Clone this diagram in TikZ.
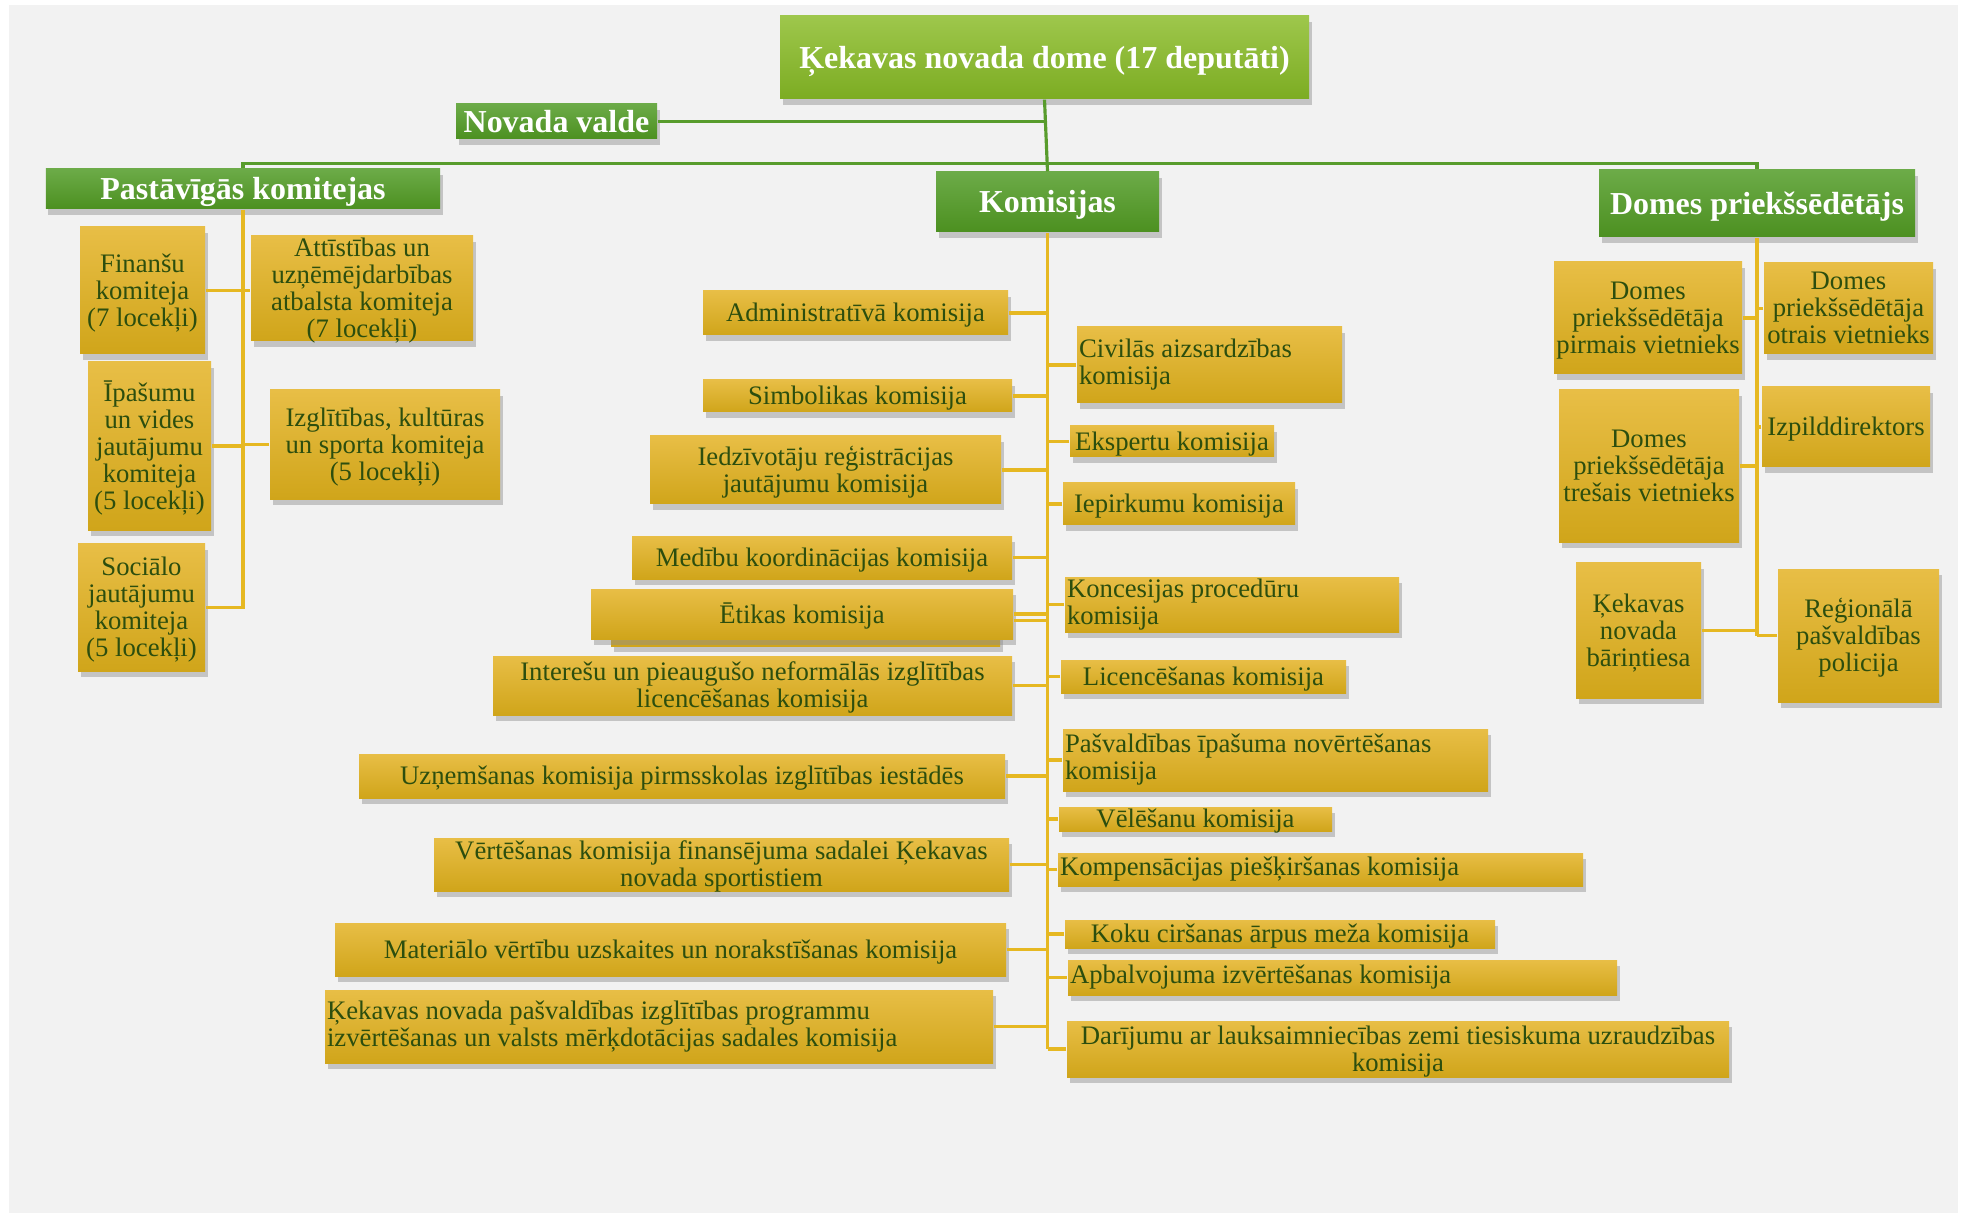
\documentclass[tikz,border=0pt]{standalone}
\usepackage{fontspec}
\setmainfont{Liberation Serif}
\usetikzlibrary{shadows}
\definecolor{bgcol}{RGB}{242,242,242}
\definecolor{headtop}{RGB}{108,171,72}
\definecolor{headbot}{RGB}{76,144,32}
\definecolor{dometop}{RGB}{158,199,76}
\definecolor{domebot}{RGB}{124,172,34}
\definecolor{goldtop}{RGB}{232,190,70}
\definecolor{goldbot}{RGB}{208,165,26}
\definecolor{unittext}{RGB}{44,78,14}
\definecolor{linegreen}{RGB}{88,156,44}
\definecolor{linegold}{RGB}{230,184,34}
\newcommand{\unitfont}{\fontsize{7.6}{7.7}\selectfont}
\newcommand{\headfont}{\bfseries\fontsize{9.1}{10}\selectfont}
\tikzstyle{boxshadow} = [drop shadow = {shadow xshift = 0.025cm, shadow yshift = -0.06cm, fill = black!45, opacity = 0.45}]
\tikzstyle{head} = [top color = headtop, bottom color = headbot, text = white, font = \headfont, inner sep = 0pt, text height = 0.25cm, text depth = 0.03cm, boxshadow]
\tikzstyle{dome} = [head, top color = dometop, bottom color = domebot]
\tikzstyle{unit} = [top color = goldtop, bottom color = goldbot, text = unittext, font = \unitfont, align = center, inner sep = 0pt, text depth = 0.01cm, boxshadow]
\tikzstyle{lunit} = [unit, align = flush left, inner xsep = 0.02cm, text depth = {}]
\tikzstyle{gline} = [draw = linegreen, line width = 0.9pt]
\tikzstyle{yline} = [draw = linegold, line width = 0.9pt]

\begin{document}
\begin{tikzpicture}
            \useasboundingbox (0, 0) rectangle (19.64, -12.13);
            \fill [bgcol] (0.09, -0.05) rectangle (19.58, -12.13);
            % top
            \node (dome) at (10.445, -0.575) [dome, minimum width = 5.29cm, minimum height = 0.83cm] {Ķekavas novada dome (17 deputāti)};
            \node (valde) at (5.565, -1.215) [head, minimum width = 2.01cm, minimum height = 0.35cm] {Novada valde};
            \node (past) at (2.43, -1.89) [head, minimum width = 3.94cm, minimum height = 0.40cm] {Pastāvīgās komitejas};
            \node (kom) at (10.475, -2.02) [head, minimum width = 2.23cm, minimum height = 0.60cm] {Komisijas};
            \node (pr) at (17.57, -2.035) [head, minimum width = 3.16cm, minimum height = 0.67cm] {Domes priekšsēdētājs};
            \draw [gline] (dome.south) -- (kom.north);
            \draw [gline] (valde.east) -- (valde.east -| dome.south);
            \draw [gline] (past.north) -- ++(0, 0.05) -| (pr.north);
            % komitejas
            \node (fin) at (1.425, -2.905) [unit, minimum width = 1.25cm, minimum height = 1.27cm] {Finanšu\\komiteja\\(7 locekļi)};
            \node (att) at (3.62, -2.885) [unit, minimum width = 2.22cm, minimum height = 1.05cm] {Attīstības un\\uzņēmējdarbības\\atbalsta komiteja\\(7 locekļi)};
            \node (ipa) at (1.495, -4.46) [unit, minimum width = 1.23cm, minimum height = 1.68cm] {Īpašumu\\un vides\\jautājumu\\komiteja\\(5 locekļi)};
            \node (izg) at (3.85, -4.445) [unit, minimum width = 2.30cm, minimum height = 1.09cm] {Izglītības, kultūras\\un sporta komiteja\\(5 locekļi)};
            \node (soc) at (1.415, -6.075) [unit, minimum width = 1.27cm, minimum height = 1.27cm] {Sociālo\\jautājumu\\komiteja\\(5 locekļi)};
            \draw [yline] (past.south) |- (soc.east);
            \draw [yline] (fin.east) -- (fin.east -| att.west);
            \draw [yline] (ipa.east) -- (ipa.east -| past.south);
            \draw [yline] (izg.west) -- (izg.west -| past.south);
            % komisijas, left
            \node (adm) at (8.555, -3.13) [unit, minimum width = 3.05cm, minimum height = 0.44cm] {Administratīvā komisija};
            \node (sim) at (8.575, -3.96) [unit, minimum width = 3.09cm, minimum height = 0.32cm] {Simbolikas komisija};
            \node (ied) at (8.255, -4.70) [unit, minimum width = 3.51cm, minimum height = 0.68cm] {Iedzīvotāju reģistrācijas\\jautājumu komisija};
            \node (med) at (8.22, -5.575) [unit, minimum width = 3.80cm, minimum height = 0.43cm] {Medību koordinācijas komisija};
            \node (eti2) at (8.055, -6.205) [unit, minimum width = 3.89cm, minimum height = 0.51cm] {};
            \node (eti) at (8.02, -6.14) [unit, minimum width = 4.22cm, minimum height = 0.50cm] {Ētikas komisija};
            \node (int) at (7.525, -6.855) [unit, minimum width = 5.19cm, minimum height = 0.59cm] {Interešu un pieaugušo neformālās izglītības\\licencēšanas komisija};
            \node (uzn) at (6.82, -7.76) [unit, minimum width = 6.46cm, minimum height = 0.44cm] {Uzņemšanas komisija pirmsskolas izglītības iestādēs};
            \node (ver) at (7.215, -8.645) [unit, minimum width = 5.75cm, minimum height = 0.53cm] {Vērtēšanas komisija finansējuma sadalei Ķekavas\\novada sportistiem};
            \node (mat) at (6.705, -9.495) [unit, minimum width = 6.71cm, minimum height = 0.53cm] {Materiālo vērtību uzskaites un norakstīšanas komisija};
            \node (kiz) at (6.59, -10.265) [lunit, text width = 6.64cm, minimum height = 0.73cm] {Ķekavas novada pašvaldības izglītības programmu\\izvērtēšanas un valsts mērķdotācijas sadales komisija};
            % komisijas, right
            \node (civ) at (12.095, -3.65) [lunit, text width = 2.61cm, minimum height = 0.76cm] {Civilās aizsardzības\\komisija};
            \node (eks) at (11.72, -4.415) [unit, minimum width = 2.04cm, minimum height = 0.31cm] {Ekspertu komisija};
            \node (iep) at (11.79, -5.04) [unit, minimum width = 2.32cm, minimum height = 0.42cm] {Iepirkumu komisija};
            \node (kon) at (12.32, -6.045) [lunit, text width = 3.30cm, minimum height = 0.55cm] {Koncesijas procedūru\\komisija};
            \node (lic) at (12.035, -6.765) [unit, minimum width = 2.85cm, minimum height = 0.33cm] {Licencēšanas komisija};
            \node (pas) at (12.755, -7.60) [lunit, text width = 4.21cm, minimum height = 0.62cm] {Pašvaldības īpašuma novērtēšanas\\komisija};
            \node (vel) at (11.955, -8.19) [unit, minimum width = 2.73cm, minimum height = 0.24cm] {Vēlēšanu komisija};
            \node (kmp) at (13.205, -8.695) [lunit, text width = 5.21cm, minimum height = 0.33cm] {Kompensācijas piešķiršanas komisija};
            \node (kok) at (12.80, -9.34) [unit, minimum width = 4.30cm, minimum height = 0.28cm] {Koku ciršanas ārpus meža komisija};
            \node (apb) at (13.425, -9.775) [lunit, text width = 5.45cm, minimum height = 0.35cm] {Apbalvojuma izvērtēšanas komisija};
            \node (dar) at (13.98, -10.49) [unit, minimum width = 6.62cm, minimum height = 0.56cm] {Darījumu ar lauksaimniecības zemi tiesiskuma uzraudzības\\komisija};
            \draw [yline] (kom.south) -- (kom.south |- dar.west);
            \draw [yline] (adm.east) -- (adm.east -| kom.south);
            \draw [yline] (sim.east) -- (sim.east -| kom.south);
            \draw [yline] (ied.east) -- (ied.east -| kom.south);
            \draw [yline] (med.east) -- (med.east -| kom.south);
            \draw [yline] (eti.east) -- (eti.east -| kom.south);
            \draw [yline] (eti.east |- eti2.east) -- (eti2.east -| kom.south);
            \draw [yline] (int.east) -- (int.east -| kom.south);
            \draw [yline] (uzn.east) -- (uzn.east -| kom.south);
            \draw [yline] (ver.east) -- (ver.east -| kom.south);
            \draw [yline] (mat.east) -- (mat.east -| kom.south);
            \draw [yline] (kiz.east) -- (kiz.east -| kom.south);
            \draw [yline] (civ.west) -- (civ.west -| kom.south);
            \draw [yline] (eks.west) -- (eks.west -| kom.south);
            \draw [yline] (iep.west) -- (iep.west -| kom.south);
            \draw [yline] (kon.west) -- (kon.west -| kom.south);
            \draw [yline] (lic.west) -- (lic.west -| kom.south);
            \draw [yline] (pas.west) -- (pas.west -| kom.south);
            \draw [yline] (vel.west) -- (vel.west -| kom.south);
            \draw [yline] (kmp.west) -- (kmp.west -| kom.south);
            \draw [yline] (kok.west) -- (kok.west -| kom.south);
            \draw [yline] (apb.west) -- (apb.west -| kom.south);
            \draw [yline] (dar.west) -- (dar.west -| kom.south);
            % priekssedetajs
            \node (pv1) at (16.48, -3.18) [unit, minimum width = 1.88cm, minimum height = 1.12cm] {Domes\\priekšsēdētāja\\pirmais vietnieks};
            \node (pv2) at (18.485, -3.085) [unit, minimum width = 1.69cm, minimum height = 0.91cm] {Domes\\priekšsēdētāja\\otrais vietnieks};
            \node (pv3) at (16.49, -4.66) [unit, minimum width = 1.80cm, minimum height = 1.52cm] {Domes\\priekšsēdētāja\\trešais vietnieks};
            \node (izp) at (18.46, -4.27) [unit, minimum width = 1.68cm, minimum height = 0.80cm] {Izpilddirektors};
            \node (bar) at (16.385, -6.305) [unit, minimum width = 1.25cm, minimum height = 1.35cm] {Ķekavas\\novada\\bāriņtiesa};
            \node (pol) at (18.585, -6.355) [unit, minimum width = 1.61cm, minimum height = 1.33cm] {Reģionālā\\pašvaldības\\policija};
            \draw [yline] (pr.south) -- (pr.south |- pol.west);
            \draw [yline] (pv1.east) -- (pv1.east -| pr.south);
            \draw [yline] (pv2.west) -- (pv2.west -| pr.south);
            \draw [yline] (pv3.east) -- (pv3.east -| pr.south);
            \draw [yline] (izp.west) -- (izp.west -| pr.south);
            \draw [yline] (bar.east) -- (bar.east -| pr.south);
            \draw [yline] (pol.west) -- (pol.west -| pr.south);
        \end{tikzpicture}
\end{document}
